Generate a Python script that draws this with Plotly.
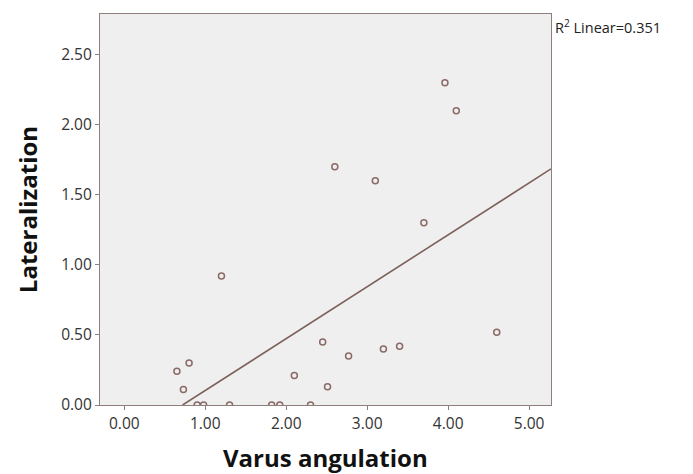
import numpy as np
import plotly.graph_objects as go

# Data
varus = [3.96, 4.10, 2.60, 3.10, 3.70, 1.20, 4.60, 2.45, 2.77, 3.20, 3.40,
         2.51, 2.10, 0.65, 0.80, 0.73, 0.90, 0.98, 1.30, 1.82, 1.92, 2.30]
lateral = [2.30, 2.10, 1.70, 1.60, 1.30, 0.92, 0.52, 0.45, 0.35, 0.40, 0.42,
           0.13, 0.21, 0.24, 0.30, 0.11, 0.00, 0.00, 0.00, 0.00, 0.00, 0.00]
x_ticks = [0, 1, 2, 3, 4, 5]
y_ticks = [0, 0.5, 1.0, 1.5, 2.0, 2.5]
x_title = "Varus angulation"
y_title = "Lateralization"
r2_label = "R<sup>2</sup> Linear=0.351"

xr = [-0.30, 5.27]
yr = [0.0, 2.79]

slope, intercept = np.polyfit(varus, lateral, 1)
x0 = -intercept / slope
line_x = [x0, xr[1]]
line_y = [slope * v + intercept for v in line_x]

brown = "#7d605b"

fig = go.Figure()
fig.add_trace(go.Scatter(x=line_x, y=line_y, mode="lines",
                         line=dict(color=brown, width=1.6), hoverinfo="skip"))
fig.add_trace(go.Scatter(x=varus, y=lateral, mode="markers",
                         marker=dict(symbol="circle-open", size=6, color="#8a6a66",
                                     line=dict(width=1.5, color="#8a6a66"))))

axis_common = dict(showgrid=False, zeroline=False, showline=True, mirror=True,
                   linecolor="#8f7f7c", linewidth=1.2, ticks="outside", ticklen=4,
                   tickcolor="#8f7f7c", tickformat=".2f",
                   tickfont=dict(family="Open Sans", size=15.5, color="#333333"))

fig.update_xaxes(range=xr, tickvals=x_ticks, **axis_common)
fig.update_yaxes(range=yr, tickvals=y_ticks, **axis_common,
                 title=dict(text="<b>" + y_title + "</b>",
                            font=dict(family="Open Sans", size=24, color="#111111"),
                            standoff=16))

fig.add_annotation(text="<b>" + x_title + "</b>", xref="paper", yref="paper",
                   x=0.5, y=0, yshift=-52, xanchor="center", yanchor="middle",
                   showarrow=False,
                   font=dict(family="Open Sans", size=24, color="#111111"))

fig.add_annotation(text=r2_label, xref="paper", yref="paper", x=1.0, y=1.0,
                   xanchor="left", yanchor="top", showarrow=False, xshift=2,
                   font=dict(family="Open Sans", size=14.5, color="#222222"))

fig.update_layout(width=693, height=474, showlegend=False,
                  margin=dict(l=92, r=150, t=6, b=77),
                  plot_bgcolor="#efefef", paper_bgcolor="#ffffff")

fig.write_html("out.html")
